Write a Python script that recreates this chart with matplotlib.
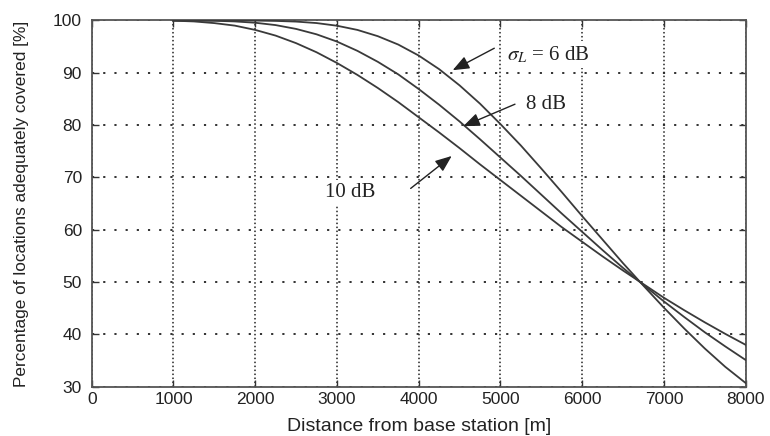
import matplotlib
matplotlib.use("Agg")
import matplotlib.pyplot as plt

plt.rcParams["font.family"] = ["Liberation Sans", "DejaVu Sans"]
plt.rcParams["mathtext.fontset"] = "stix"

# distance from base station [m]
distance = [1000, 1250, 1500, 1750, 2000, 2250, 2500, 2750, 3000, 3250, 3500, 3750,
            4000, 4250, 4500, 4750, 5000, 5250, 5500, 5750, 6000, 6250, 6500, 6750,
            7000, 7250, 7500, 7750, 8000]

# percentage of locations adequately covered [%]
cov_6db = [100.0, 100.0, 100.0, 100.0, 99.98, 99.92, 99.79, 99.51, 99.0, 98.2, 97.0, 95.4,
           93.3, 90.7, 87.6, 84.1, 80.2, 76.1, 71.7, 67.2, 62.6, 58.1, 53.6, 49.3,
           45.1, 41.1, 37.3, 33.8, 30.7]
cov_8db = [100.0, 99.99, 99.95, 99.82, 99.57, 99.12, 98.39, 97.36, 95.97, 94.2, 92.1, 89.7,
           86.9, 83.9, 80.7, 77.3, 73.8, 70.3, 66.7, 63.1, 59.6, 56.1, 52.7, 49.45,
           46.3, 43.3, 40.4, 37.7, 35.1]
cov_10db = [99.96, 99.82, 99.5, 99.02, 98.2, 97.11, 95.67, 93.93, 91.88, 89.6, 87.1, 84.4,
            81.5, 78.6, 75.6, 72.5, 69.5, 66.5, 63.5, 60.5, 57.7, 54.9, 52.2, 49.6,
            47.0, 44.6, 42.3, 40.1, 38.0]

x_ticks = [0, 1000, 2000, 3000, 4000, 5000, 6000, 7000, 8000]
y_ticks = [30, 40, 50, 60, 70, 80, 90, 100]

fig = plt.figure(figsize=(7.7, 4.36), dpi=100)
ax = fig.add_axes([0.1191, 0.1131, 0.8493, 0.8399])

line_kw = dict(color="#3a3a3a", linewidth=1.3, zorder=3)
ax.plot(distance, cov_6db, **line_kw)
ax.plot(distance, cov_8db, **line_kw)
ax.plot(distance, cov_10db, **line_kw)

ax.set_xlim(0, 8000)
ax.set_ylim(30, 100)
ax.set_xticks(x_ticks)
ax.set_yticks(y_ticks)
ax.tick_params(direction="in", top=True, right=True, length=5, width=1,
               labelsize=12.5, colors="#333333", labelcolor="#222222")
ax.tick_params(axis="x", pad=4)
ax.tick_params(axis="y", pad=7)

ax.xaxis.grid(True, color="#222222", linestyle=(0, (1, 1.6)), linewidth=1.1, zorder=1)
ax.yaxis.grid(True, color="#222222", linestyle=(0, (1.2, 5)), linewidth=1.3, zorder=1)
ax.set_axisbelow(True)

for s in ax.spines.values():
    s.set_color("#555555")
    s.set_linewidth(1.3)

ax.set_xlabel("Distance from base station [m]", fontsize=14, color="#222222", labelpad=8)
ax.set_ylabel("Percentage of locations adequately covered [%]", fontsize=12.4,
              color="#222222", labelpad=17)

lab_kw = dict(fontsize=15, family=["Liberation Serif", "DejaVu Serif"], color="#222222",
              va="center", zorder=4,
              bbox=dict(facecolor="white", edgecolor="none", pad=2))
arr_kw = dict(arrowstyle="-|>,head_length=1.0,head_width=0.4", color="#222222",
              linewidth=1.0, shrinkA=0, shrinkB=0)

ax.text(5075, 93.5, r"$\sigma_L$ = 6 dB", ha="left", **lab_kw)
ax.annotate("", xy=(4416, 90.5), xytext=(4925, 94.7), arrowprops=arr_kw, zorder=4)

ax.text(5309, 84.0, "8 dB", ha="left", **lab_kw)
ax.annotate("", xy=(4546, 79.8), xytext=(5178, 84.0), arrowprops=arr_kw, zorder=4)

ax.text(2854, 67.1, "10 dB", ha="left", **lab_kw)
ax.annotate("", xy=(4404, 74.1), xytext=(3902, 67.9), arrowprops=arr_kw, zorder=4)

fig.savefig("out.png", dpi=100)
